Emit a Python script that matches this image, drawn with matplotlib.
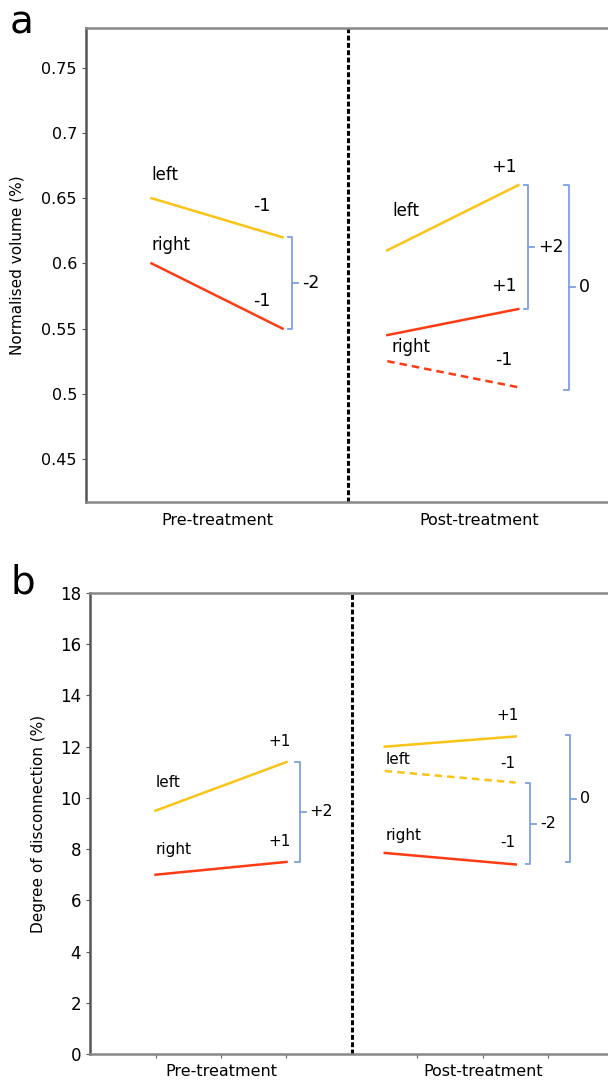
import matplotlib.pyplot as plt

# panel a: normalised volume
a_pre_x = [1, 3]
a_post_x = [4.6, 6.6]
a_pre_left = [0.65, 0.62]
a_pre_right = [0.60, 0.55]
a_post_left = [0.61, 0.66]
a_post_right = [0.545, 0.565]
a_post_right_dash = [0.525, 0.505]

# panel b: degree of disconnection
b_pre_x = [1, 3]
b_post_x = [4.5, 6.5]
b_pre_left = [9.5, 11.4]
b_pre_right = [7.0, 7.5]
b_post_left = [12.0, 12.4]
b_post_left_dash = [11.05, 10.6]
b_post_right = [7.85, 7.4]

xtick_pos = [2, 6]
xtick_labels = ["Pre-treatment", "Post-treatment"]

YEL = "#F9C416"
RED = "#FF3B14"
BLUE = "#7E9FE0"

plt.rcParams["font.family"] = ["DejaVu Sans"]


def bracket(ax, x, top, bottom, label, dx=0.07, tx=0.15, fs=12.5):
    ax.plot([x - dx, x, x, x - dx], [top, top, bottom, bottom], color=BLUE, lw=1.3,
            solid_joinstyle="round", clip_on=False)
    mid = (top + bottom) / 2
    ax.plot([x, x + dx * 1.3], [mid, mid], color=BLUE, lw=1.3, clip_on=False)
    ax.text(x + tx, mid, label, ha="left", va="center", fontsize=fs, clip_on=False)


def style(ax, gray):
    for s in ["left", "bottom", "top"]:
        ax.spines[s].set_color(gray)
        ax.spines[s].set_linewidth(1.8)
    ax.spines["left"].set_color("#555555")
    ax.spines["right"].set_visible(False)
    ax.set_xlim(0, 8)
    ax.axvline(4, color="black", lw=2.2, ls=(0, (1.6, 0.8)))


fig = plt.figure(figsize=(6.08, 10.85), dpi=100)

# ---------- panel a ----------
ax1 = fig.add_axes([86 / 608, 1 - 502 / 1085, 524 / 608, 474 / 1085])
style(ax1, "#888888")
ax1.set_ylim(0.417, 0.7805)
ax1.set_yticks([0.45, 0.5, 0.55, 0.6, 0.65, 0.7, 0.75])
ax1.set_yticklabels(["0.45", "0.5", "0.55", "0.6", "0.65", "0.7", "0.75"])
ax1.set_xticks(xtick_pos)
ax1.set_xticklabels(xtick_labels)
ax1.tick_params(axis="x", length=0, pad=8, labelsize=11.5)
ax1.tick_params(axis="y", length=3, labelsize=11.5, color="#555555")
ax1.set_ylabel("Normalised volume (%)", fontsize=11, labelpad=12)

ax1.plot(a_pre_x, a_pre_left, color=YEL, lw=1.8)
ax1.plot(a_pre_x, a_pre_right, color=RED, lw=1.8)
ax1.plot(a_post_x, a_post_left, color=YEL, lw=1.8)
ax1.plot(a_post_x, a_post_right, color=RED, lw=1.8)
ax1.plot(a_post_x, a_post_right_dash, color=RED, lw=1.8, ls=(0, (3, 2)))

ax1.text(1, 0.668, "left", fontsize=12, va="center")
ax1.text(1, 0.614, "right", fontsize=12, va="center")
ax1.text(2.69, 0.644, "-1", fontsize=12.5, ha="center", va="center")
ax1.text(2.69, 0.571, "-1", fontsize=12.5, ha="center", va="center")
ax1.text(4.67, 0.640, "left", fontsize=12, va="center")
ax1.text(4.67, 0.536, "right", fontsize=12, va="center")
ax1.text(6.38, 0.674, "+1", fontsize=12.5, ha="center", va="center")
ax1.text(6.38, 0.583, "+1", fontsize=12.5, ha="center", va="center")
ax1.text(6.38, 0.526, "-1", fontsize=12.5, ha="center", va="center")

bracket(ax1, 3.15, a_pre_left[1], a_pre_right[1], "-2")
bracket(ax1, 6.75, a_post_left[1], a_post_right[1], "+2")
bracket(ax1, 7.37, a_post_left[1], 0.503, "0")

fig.text(10 / 608, 1 - 22 / 1085, "a", fontsize=28, va="center")

# ---------- panel b ----------
ax2 = fig.add_axes([90 / 608, 1 - 1054 / 1085, 524 / 608, 461 / 1085])
style(ax2, "#888888")
ax2.set_ylim(0, 18)
ax2.set_yticks(range(0, 19, 2))
ax2.set_xticks([1, 2, 3, 5, 6, 7])
ax2.set_xticklabels(["", xtick_labels[0], "", "", xtick_labels[1], ""])
ax2.tick_params(axis="x", length=3, pad=4, labelsize=11.5, color="#666666")
ax2.tick_params(axis="y", length=3, labelsize=12, color="#555555")
ax2.set_ylabel("Degree of disconnection (%)", fontsize=11, labelpad=10)

ax2.plot(b_pre_x, b_pre_left, color=YEL, lw=1.8)
ax2.plot(b_pre_x, b_pre_right, color=RED, lw=1.8)
ax2.plot(b_post_x, b_post_left, color=YEL, lw=1.8)
ax2.plot(b_post_x, b_post_left_dash, color=YEL, lw=1.8, ls=(0, (3, 2)))
ax2.plot(b_post_x, b_post_right, color=RED, lw=1.8)

ax2.text(1, 10.6, "left", fontsize=11, va="center")
ax2.text(1, 8.0, "right", fontsize=11, va="center")
ax2.text(2.9, 12.2, "+1", fontsize=11, ha="center", va="center")
ax2.text(2.9, 8.3, "+1", fontsize=11, ha="center", va="center")
ax2.text(4.52, 11.5, "left", fontsize=11, va="center")
ax2.text(4.52, 8.55, "right", fontsize=11, va="center")
ax2.text(6.38, 13.2, "+1", fontsize=11, ha="center", va="center")
ax2.text(6.38, 11.35, "-1", fontsize=11, ha="center", va="center")
ax2.text(6.38, 8.25, "-1", fontsize=11, ha="center", va="center")

bracket(ax2, 3.2, b_pre_left[1], b_pre_right[1], "+2", fs=11.5)
bracket(ax2, 6.72, b_post_left_dash[1], b_post_right[1], "-2", fs=11.5)
bracket(ax2, 7.33, 12.45, 7.5, "0", fs=11.5)

fig.text(10 / 608, 1 - 583 / 1085, "b", fontsize=28, va="center")

fig.savefig("out.png", dpi=100)
